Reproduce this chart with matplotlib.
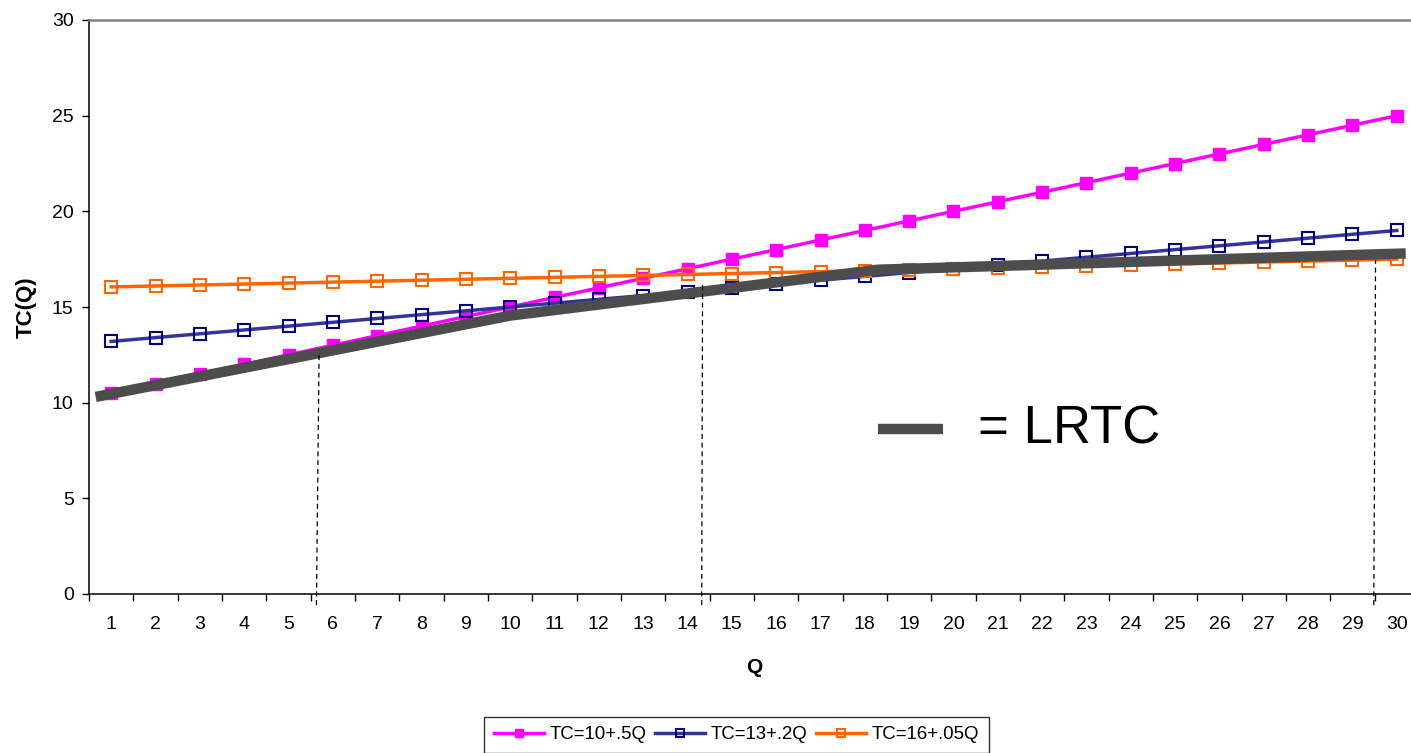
import matplotlib
matplotlib.use("Agg")
import matplotlib.pyplot as plt
from matplotlib.lines import Line2D

plt.rcParams['font.family'] = ['Liberation Sans', 'DejaVu Sans']

# ---- data ----
Q = list(range(1, 31))
tc1 = [10.5, 11.0, 11.5, 12.0, 12.5, 13.0, 13.5, 14.0, 14.5, 15.0,
       15.5, 16.0, 16.5, 17.0, 17.5, 18.0, 18.5, 19.0, 19.5, 20.0,
       20.5, 21.0, 21.5, 22.0, 22.5, 23.0, 23.5, 24.0, 24.5, 25.0]
tc2 = [13.2, 13.4, 13.6, 13.8, 14.0, 14.2, 14.4, 14.6, 14.8, 15.0,
       15.2, 15.4, 15.6, 15.8, 16.0, 16.2, 16.4, 16.6, 16.8, 17.0,
       17.2, 17.4, 17.6, 17.8, 18.0, 18.2, 18.4, 18.6, 18.8, 19.0]
tc3 = [16.05, 16.1, 16.15, 16.2, 16.25, 16.3, 16.35, 16.4, 16.45, 16.5,
       16.55, 16.6, 16.65, 16.7, 16.75, 16.8, 16.85, 16.9, 16.95, 17.0,
       17.05, 17.1, 17.15, 17.2, 17.25, 17.3, 17.35, 17.4, 17.45, 17.5]
series_labels = ["TC=10+.5Q", "TC=13+.2Q", "TC=16+.05Q"]

# hand-drawn LRTC envelope
lrtc_q = [0.65, 10.0, 18.3, 30.2]
lrtc_v = [10.3, 14.55, 16.95, 17.8]

# dashed drop lines: (bottom q, top q, top value)
drop_bottom_q = [5.63, 14.32, 29.48]
drop_top_q = [5.69, 14.34, 29.52]
drop_top_v = [12.6, 16.26, 17.46]
drop_bottom_v = -0.58

W, H = 1411, 753
fig = plt.figure(figsize=(W / 100, H / 100), dpi=100)
ax = fig.add_axes([89 / W, 1 - 594 / H, (1419 - 89) / W, (594 - 20) / H])

ax.plot(Q, tc1, color='#FF00FF', lw=2.5, marker='s', ms=8,
        mfc='#FF00FF', mec='#FF00FF', label=series_labels[0], zorder=3)
ax.plot(Q, tc2, color='#333399', lw=2.5, marker='s', ms=8,
        mfc='none', mec='#000080', mew=1.5, label=series_labels[1], zorder=4)
ax.plot(Q, tc3, color='#FF6600', lw=2.5, marker='s', ms=8,
        mfc='none', mec='#FF6600', mew=1.5, label=series_labels[2], zorder=5)

ax.plot(lrtc_q, lrtc_v, color='#4D4D4D', lw=7.5, solid_capstyle='butt',
        zorder=6, clip_on=False)

for qb, qt, vt in zip(drop_bottom_q, drop_top_q, drop_top_v):
    ax.plot([qb, qt], [drop_bottom_v, vt], color='black', lw=0.9,
            ls=(0, (4, 3)), clip_on=False, zorder=7)

ax.set_xlim(0.5, 30.5)
ax.set_ylim(0, 30)
ax.set_yticks([0, 5, 10, 15, 20, 25, 30])
ax.set_xticks([q + 0.5 for q in range(0, 31)])
ax.set_xticklabels([])
ax.set_xticks(Q, minor=True)
ax.set_xticklabels([str(q) for q in Q], minor=True)
ax.tick_params(axis='x', which='major', length=5, width=1, direction='out')
ax.tick_params(axis='x', which='minor', length=0, pad=15.5, labelsize=14)
ax.tick_params(axis='y', length=5, width=1, direction='out', pad=6, labelsize=14)

for s in ['left', 'bottom']:
    ax.spines[s].set_color('black')
    ax.spines[s].set_linewidth(1.1)
ax.spines['top'].set_color('#808080')
ax.spines['top'].set_linewidth(1.8)
ax.spines['right'].set_visible(False)

ax.set_xlabel('Q', fontweight='bold', fontsize=15, labelpad=18)
ax.set_ylabel('TC(Q)', fontweight='bold', fontsize=16, labelpad=11)

# LRTC annotation
fig.add_artist(Line2D([878 / W, 943 / W], [1 - 429 / H, 1 - 429 / H],
                      color='#4D4D4D', lw=7.5, solid_capstyle='butt',
                      transform=fig.transFigure))
fig.text(978 / W, 1 - 443 / H, '= LRTC', fontsize=38, va='baseline', ha='left')

leg = fig.legend(loc='upper center', bbox_to_anchor=(736.5 / W, 1 - 717 / H),
                 ncol=3, frameon=True, fancybox=False, edgecolor='black',
                 fontsize=13.4, handlelength=2.7, handletextpad=0.3,
                 columnspacing=0.45, borderpad=0.5, borderaxespad=0,
                 markerscale=0.8)
leg.get_frame().set_linewidth(1.0)

fig.savefig('out.png', dpi=100)
